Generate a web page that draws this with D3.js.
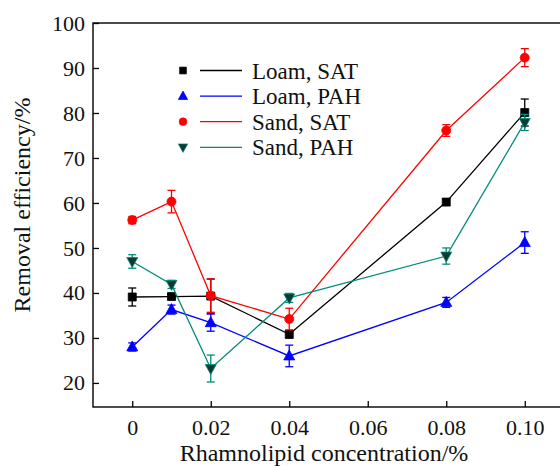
<!DOCTYPE html>
<html>
<head>
<meta charset="utf-8">
<script src="https://cdn.jsdelivr.net/npm/d3@7"></script>
<style>
  body { margin: 0; background: #fff; }
  svg { display: block; font-family: "Liberation Serif", "Times New Roman", serif; }
</style>
</head>
<body>
<div id="chart"></div>
<script>
// data
const concs = [0, 0.01, 0.02, 0.04, 0.08, 0.10]
const xTicks = [0, 0.02, 0.04, 0.06, 0.08, 0.10]
const xTickLabels = ['0', '0.02', '0.04', '0.06', '0.08', '0.10']
const yTicks = [20, 30, 40, 50, 60, 70, 80, 90, 100]

const loamSAT = [39.1, 39.2, 39.3, 30.8, 60.2, 80.1]
const loamSATErr = [2.0, 0.5, 3.8, 0.8, 0.7, 3.0]
const loamPAH = [28.0, 36.3, 33.4, 26.0, 37.9, 51.2]
const loamPAHErr = [0.9, 1.0, 1.9, 2.4, 1.1, 2.4]
const sandSAT = [56.2, 60.3, 39.4, 34.2, 76.1, 92.3]
const sandSATErr = [0.8, 2.5, 3.7, 2.4, 1.3, 2.0]
const sandPAH = [47.0, 41.9, 23.2, 38.9, 48.2, 77.9]
const sandPAHErr = [1.5, 0.9, 3.0, 1.0, 1.8, 1.8]

const seriesNames = ['Loam, SAT', 'Loam, PAH', 'Sand, SAT', 'Sand, PAH']

const series = [
    {name: seriesNames[0], vals: loamSAT, err: loamSATErr, color: '#000000', fill: '#000000', shape: 'square'},
    {name: seriesNames[1], vals: loamPAH, err: loamPAHErr, color: '#0000ff', fill: '#0000ff', shape: 'up'},
    {name: seriesNames[2], vals: sandSAT, err: sandSATErr, color: '#ff0000', fill: '#ff0000', shape: 'circle'},
    {name: seriesNames[3], vals: sandPAH, err: sandPAHErr, color: '#008b7a', fill: '#0b3a32', shape: 'down'}
]

const W = 560, H = 466
const plot = {left: 93, right: 564, top: 23, bottom: 407}

const x = d3.scaleLinear().domain([-0.01, 0.11]).range([plot.left, plot.right])
const y = d3.scaleLinear().domain([14.65, 100]).range([plot.bottom, plot.top])

const svg = d3.select('#chart').append('svg')
    .attr('width', W)
    .attr('height', H)

// axes with inward ticks
const yAxis = d3.axisLeft(y).tickValues(yTicks).tickSizeInner(-6).tickSizeOuter(0).tickPadding(8)
const xAxis = d3.axisBottom(x).tickValues(xTicks).tickSizeInner(-6).tickSizeOuter(0).tickPadding(12)
    .tickFormat((d, i) => xTickLabels[i])

const gy = svg.append('g')
    .attr('transform', `translate(${plot.left},0)`)
    .call(yAxis)
const gx = svg.append('g')
    .attr('transform', `translate(0,${plot.bottom})`)
    .call(xAxis)

;[gx, gy].forEach(g => {
    g.select('.domain').remove()
    g.selectAll('.tick line').attr('stroke', '#000').attr('stroke-width', 1.3)
    g.selectAll('.tick text')
        .attr('fill', '#111')
        .style('font-size', '22px')
        .style('font-family', '"Liberation Serif", "Times New Roman", serif')
})

// frame
svg.append('rect')
    .attr('x', plot.left)
    .attr('y', plot.top)
    .attr('width', plot.right - plot.left)
    .attr('height', plot.bottom - plot.top)
    .attr('fill', 'none')
    .attr('stroke', '#000')
    .attr('stroke-width', 1.4)

// axis titles
svg.append('text')
    .attr('x', 324)
    .attr('y', 461)
    .attr('text-anchor', 'middle')
    .style('font-size', '24px')
    .attr('fill', '#111')
    .text('Rhamnolipid concentration/%')

svg.append('text')
    .attr('transform', 'translate(30,205) rotate(-90)')
    .attr('text-anchor', 'middle')
    .style('font-size', '24px')
    .attr('fill', '#111')
    .text('Removal efficiency/%')

function markerPath(shape) {
    if (shape === 'square') return 'M-4,-4H4V4H-4Z'
    if (shape === 'up') return 'M0,-6L5.5,4L-5.5,4Z'
    if (shape === 'down') return 'M0,6L5.5,-4L-5.5,-4Z'
    return d3.symbol(d3.symbolCircle, 64)()
}

const line = d3.line()
    .x(d => x(d.c))
    .y(d => y(d.v))

series.forEach(s => {
    const pts = concs.map((c, i) => ({c: c, v: s.vals[i], e: s.err[i]}))
    const g = svg.append('g')

    g.append('path')
        .datum(pts)
        .attr('d', line)
        .attr('fill', 'none')
        .attr('stroke', s.color)
        .attr('stroke-width', 1.3)

    const eb = g.selectAll('.err')
        .data(pts)
        .enter().append('g')
        .attr('class', 'err')
        .attr('stroke', s.color)
        .attr('stroke-width', 1.3)
    eb.append('line')
        .attr('x1', d => x(d.c)).attr('x2', d => x(d.c))
        .attr('y1', d => y(d.v + d.e)).attr('y2', d => y(d.v - d.e))
    eb.append('line')
        .attr('x1', d => x(d.c) - 4).attr('x2', d => x(d.c) + 4)
        .attr('y1', d => y(d.v + d.e)).attr('y2', d => y(d.v + d.e))
    eb.append('line')
        .attr('x1', d => x(d.c) - 4).attr('x2', d => x(d.c) + 4)
        .attr('y1', d => y(d.v - d.e)).attr('y2', d => y(d.v - d.e))

    g.selectAll('.mk')
        .data(pts)
        .enter().append('path')
        .attr('class', 'mk')
        .attr('transform', d => `translate(${x(d.c)},${y(d.v)})`)
        .attr('d', markerPath(s.shape))
        .attr('fill', s.fill)
        .attr('stroke', s.color)
        .attr('stroke-width', 0.8)
})

// legend
const legend = svg.selectAll('.legend')
    .data(series)
    .enter().append('g')
    .attr('class', 'legend')
    .attr('transform', (d, i) => `translate(0,${70.5 + i * 25.6})`)

legend.append('path')
    .attr('transform', 'translate(183,0) scale(0.85)')
    .attr('d', d => markerPath(d.shape))
    .attr('fill', d => d.fill)
    .attr('stroke', d => d.color)
    .attr('stroke-width', 0.8)

legend.append('line')
    .attr('x1', 200).attr('x2', 242)
    .attr('y1', 0).attr('y2', 0)
    .attr('stroke', d => d.color)
    .attr('stroke-width', 1.3)

legend.append('text')
    .attr('x', 252)
    .attr('y', 0)
    .attr('dy', '0.35em')
    .style('font-size', '23px')
    .attr('fill', '#111')
    .text(d => d.name)
</script>
</body>
</html>
